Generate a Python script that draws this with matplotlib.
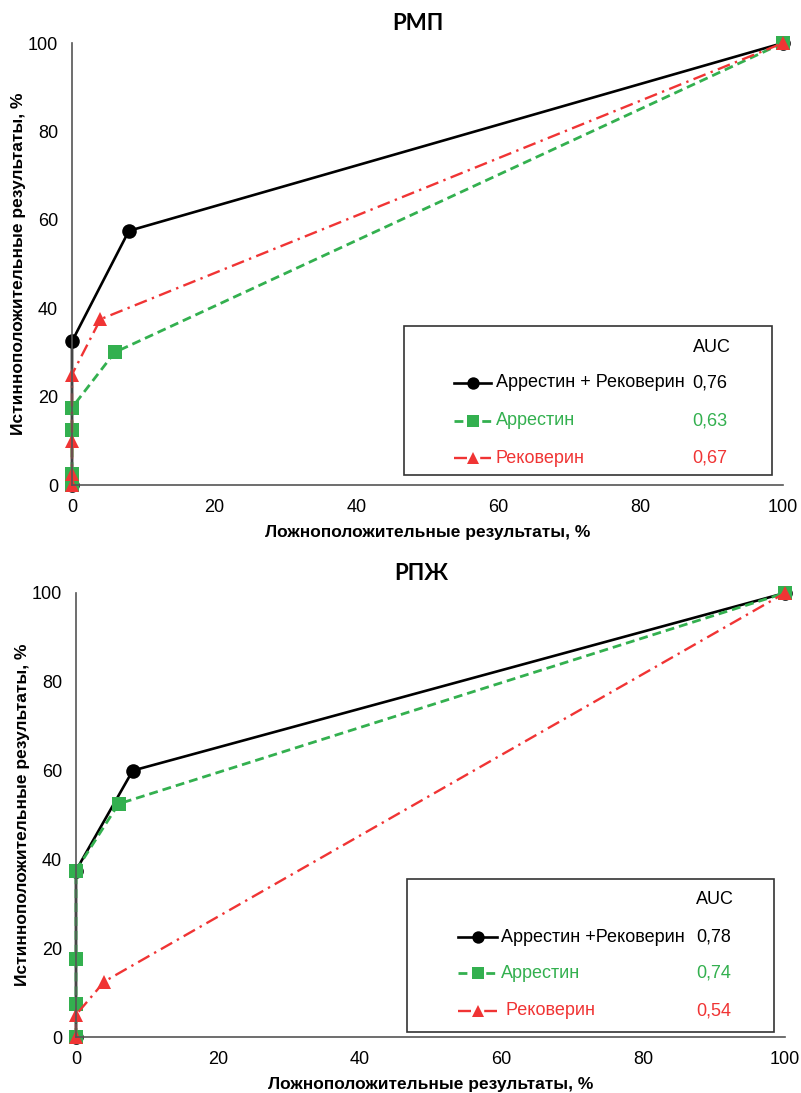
import matplotlib.pyplot as plt
from matplotlib.lines import Line2D
from matplotlib.patches import Rectangle

plt.rcParams["font.family"] = ["Liberation Sans", "DejaVu Sans"]

# ROC points, % (false positive, true positive)
rmp_combo_x = [0, 0, 8, 100]
rmp_combo_y = [0, 32.5, 57.5, 100]
rmp_arr_x = [0, 0, 0, 0, 6, 100]
rmp_arr_y = [0, 2.5, 12.5, 17.5, 30, 100]
rmp_rec_x = [0, 0, 0, 0, 4, 100]
rmp_rec_y = [0, 2.5, 10, 25, 37.5, 100]

rpzh_combo_x = [0, 0, 8, 100]
rpzh_combo_y = [0, 37.5, 60, 100]
rpzh_arr_x = [0, 0, 0, 0, 6, 100]
rpzh_arr_y = [0, 7.5, 17.5, 37.5, 52.5, 100]
rpzh_rec_x = [0, 0, 4, 100]
rpzh_rec_y = [0, 5, 12.5, 100]

titles = ["РМП", "РПЖ"]
labels_rmp = ["Аррестин + Рековерин", "Аррестин", "Рековерин"]
labels_rpzh = ["Аррестин +Рековерин", "Аррестин", " Рековерин"]
auc_rmp = ["0,76", "0,63", "0,67"]
auc_rpzh = ["0,78", "0,74", "0,54"]

BLACK = "#000000"
GREEN = "#33b04f"
RED = "#f03434"
styles = [
    dict(color=BLACK, linestyle="-", marker="o", markersize=10.5, linewidth=1.9),
    dict(color=GREEN, linestyle=(0, (3.2, 1.8)), marker="s", markersize=9.5, linewidth=2.0),
    dict(color=RED, linestyle=(0, (5.5, 2.3, 1, 2.3)), marker="^", markersize=10.5, linewidth=1.7),
]

fig = plt.figure(figsize=(8.01, 10.93), dpi=100)
W, H = 801, 1093


def panel(box, title, series, labels, aucs, leg):
    l, r, t, b = box
    ax = fig.add_axes([l / W, 1 - b / H, (r - l) / W, (b - t) / H])
    for (xs, ys), st in zip(series, styles):
        ax.plot(xs, ys, clip_on=False, markeredgewidth=0, **st)
    ax.set_xlim(0, 100)
    ax.set_ylim(0, 100)
    ax.set_xticks(range(0, 101, 20))
    ax.set_yticks(range(0, 101, 20))
    ax.tick_params(length=0, labelsize=13)
    ax.tick_params(axis="x", pad=10)
    ax.tick_params(axis="y", pad=10)
    for s in ("top", "right"):
        ax.spines[s].set_visible(False)
    for s in ("left", "bottom"):
        ax.spines[s].set_color("#555555")
        ax.spines[s].set_linewidth(1.2)
    ax.set_title(title, fontsize=16, fontweight="bold", pad=9, x=0.487,
                 family=["Lato", "Liberation Sans", "DejaVu Sans"])
    ax.set_xlabel("Ложноположительные результаты, %", fontsize=12.5, fontweight="bold", labelpad=6.5)
    ax.set_ylabel("Истинноположительные результаты, %", fontsize=12.5, fontweight="bold", labelpad=1)

    bx0, bx1, by0, by1, rows, lx0, lx1, tx, vx = leg
    ax.add_patch(Rectangle((bx0, by0), bx1 - bx0, by1 - by0, transform=ax.transAxes,
                           facecolor="white", edgecolor="#333333", linewidth=1.2,
                           clip_on=False, zorder=5))
    ax.text(vx, rows[0], "AUC", transform=ax.transAxes, fontsize=13,
            va="center", ha="left", zorder=6)
    for i, st in enumerate(styles):
        y = rows[i + 1]
        ax.add_line(Line2D([lx0, lx1], [y, y], transform=ax.transAxes, zorder=6,
                           color=st["color"], linestyle=st["linestyle"],
                           linewidth=st["linewidth"]))
        ax.add_line(Line2D([(lx0 + lx1) / 2], [y], transform=ax.transAxes, zorder=6,
                           color=st["color"], marker=st["marker"],
                           markersize=st["markersize"] * 0.85, markeredgewidth=0))
        c = st["color"]
        ax.text(tx, y, labels[i], transform=ax.transAxes, fontsize=13, color=c,
                va="center", ha="left", zorder=6)
        ax.text(vx, y, aucs[i], transform=ax.transAxes, fontsize=13, color=c,
                va="center", ha="left", zorder=6)
    return ax


panel((72, 783, 43, 485), titles[0],
      [(rmp_combo_x, rmp_combo_y), (rmp_arr_x, rmp_arr_y), (rmp_rec_x, rmp_rec_y)],
      labels_rmp, auc_rmp,
      (0.467, 0.985, 0.023, 0.36, [0.31, 0.231, 0.145, 0.061], 0.537, 0.59, 0.596, 0.873))
panel((76, 785, 593, 1037), titles[1],
      [(rpzh_combo_x, rpzh_combo_y), (rpzh_arr_x, rpzh_arr_y), (rpzh_rec_x, rpzh_rec_y)],
      labels_rpzh, auc_rpzh,
      (0.467, 0.984, 0.012, 0.356, [0.309, 0.225, 0.144, 0.059], 0.539, 0.594, 0.600, 0.875))

fig.savefig("out.png", dpi=100)
